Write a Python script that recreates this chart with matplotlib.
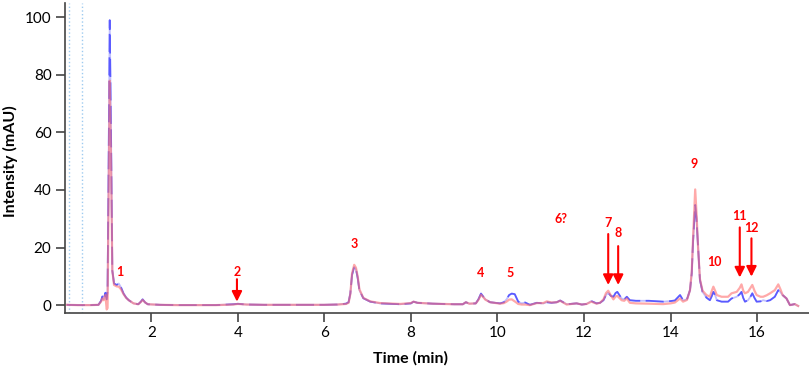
#!/usr/bin/env python3
import matplotlib
matplotlib.use("Agg")
import matplotlib.pyplot as plt

# chromatogram traces (time in min, intensity in mAU)
time = [0.05, 0.3, 0.6, 0.78, 0.84, 0.87, 0.90, 0.94, 0.97, 0.99, 1.01, 1.04, 1.07, 1.10,
        1.14, 1.20, 1.25, 1.30, 1.36, 1.42, 1.48, 1.59, 1.70, 1.76, 1.80, 1.86, 1.92, 2.2,
        2.6, 3.0, 3.5, 3.9, 4.0, 4.2, 4.6, 5.0, 5.5, 6.0, 6.3, 6.50, 6.56, 6.60, 6.64, 6.69,
        6.73, 6.77, 6.81, 6.90, 7.06, 7.29, 7.75, 8.0, 8.06, 8.15, 8.5, 9.0, 9.2, 9.27, 9.35,
        9.50, 9.56, 9.62, 9.67, 9.72, 9.83, 10.06, 10.15, 10.21, 10.27, 10.33, 10.40, 10.48,
        10.56, 10.64, 10.75, 10.91, 11.06, 11.14, 11.25, 11.37, 11.45, 11.6, 11.83, 11.95,
        12.06, 12.17, 12.29, 12.37, 12.45, 12.51, 12.56, 12.62, 12.68, 12.73, 12.77, 12.87,
        12.93, 12.99, 13.06, 13.2, 13.5, 13.83, 14.0, 14.1, 14.22, 14.29, 14.38, 14.45, 14.49,
        14.52, 14.57, 14.60, 14.64, 14.68, 14.74, 14.83, 14.91, 14.95, 14.99, 15.03, 15.07,
        15.18, 15.33, 15.41, 15.53, 15.60, 15.64, 15.68, 15.72, 15.79, 15.85, 15.89, 15.94,
        15.99, 16.08, 16.14, 16.22, 16.30, 16.41, 16.49, 16.54, 16.59, 16.68, 16.76, 16.82,
        16.87, 16.95]

blue = [0.1, 0.0, 0.0, 0.1, 1.5, 3.0, 2.0, 4.3, 2.0, 5.0, 40, 99, 60, 12,
        7.5, 7.0, 7.5, 6.2, 4.0, 2.6, 1.7, 0.6, 0.3, 1.2, 2.0, 0.9, 0.3, 0.1,
        0.0, 0.0, 0.0, 0.3, 0.45, 0.2, 0.1, 0.1, 0.1, 0.1, 0.2, 0.5, 1.0, 4.0, 10.5, 13.3,
        12.5, 9.5, 5.2, 2.4, 1.2, 0.6, 0.3, 0.6, 1.2, 0.8, 0.5, 0.3, 0.3, 1.0, 0.5,
        0.6, 2.0, 4.0, 3.0, 2.0, 1.0, 0.6, 1.0, 2.0, 3.5, 4.0, 3.8, 1.2,
        0.6, 0.9, 0.1, 0.8, 0.6, 1.0, 0.8, 1.0, 1.6, 0.3, 0.6, 0.2,
        0.4, 1.4, 0.6, 0.8, 1.7, 3.5, 4.3, 3.2, 2.9, 4.2, 4.6, 2.3,
        2.0, 2.9, 1.7, 1.5, 1.5, 1.2, 1.4, 1.6, 3.5, 1.7, 2.0, 5.2, 11,
        22, 34.8, 30, 19, 8.7, 4.6, 2.6, 1.7, 3.0, 4.6, 3.5, 1.7,
        1.2, 1.2, 2.3, 2.9, 3.8, 4.6, 2.5, 1.2, 1.7, 3.0, 4.1, 2.5,
        1.2, 1.3, 1.7, 1.4, 1.7, 2.9, 5.2, 4.5, 3.5, 2.3, 0.0, 0.2,
        0.35, -0.3]

pink = [0.1, 0.0, 0.0, 0.1, 1.2, 2.3, 1.7, 3.5, -1.5, -1.0, 30, 78, 50, 12,
        7.0, 6.5, 6.4, 5.5, 3.8, 2.5, 1.7, 0.6, 0.3, 1.1, 1.8, 0.9, 0.3, 0.1,
        0.0, 0.0, 0.0, 0.2, 0.4, 0.2, 0.1, 0.1, 0.1, 0.1, 0.2, 0.4, 0.8, 3.8, 11, 14.0,
        13.0, 10.0, 5.5, 2.5, 1.3, 0.7, 0.4, 0.7, 1.2, 0.8, 0.5, 0.3, 0.3, 1.0, 0.5,
        0.6, 1.8, 3.6, 2.8, 1.9, 1.0, 0.5, 0.7, 1.2, 1.9, 2.0, 1.3, 0.4,
        0.2, 0.2, 0.0, 0.7, 0.7, 1.3, 0.9, 1.0, 1.5, 0.2, 0.6, 0.2,
        0.4, 1.2, 0.5, 0.8, 2.0, 4.2, 5.0, 3.4, 2.0, 3.0, 3.2, 1.7,
        1.5, 2.3, 0.8, 0.6, 0.5, 0.35, 0.6, 0.9, 2.3, 1.2, 1.8, 5.2, 11.5,
        23, 40.2, 32, 19, 9, 5.0, 3.5, 2.9, 4.8, 6.4, 5.0, 3.5,
        2.9, 2.9, 4.1, 4.6, 6.0, 7.2, 5.0, 4.1, 4.6, 6.0, 7.0, 5.0,
        3.5, 2.9, 2.9, 3.4, 4.1, 5.2, 7.2, 5.5, 3.5, 2.3, 0.0, 0.2,
        0.35, -0.3]

# peak labels: text, text position, arrow start/end (None = no arrow)
peak_labels = ['1', '2', '3', '4', '5', '6?', '7', '8', '9', '10', '11', '12']
label_t = [1.28, 3.98, 6.70, 9.60, 10.29, 11.47, 12.56, 12.79, 14.54, 15.01, 15.60, 15.87]
label_i = [11.5, 11.6, 21.1, 11.0, 11.0, 29.8, 28.4, 24.9, 49.0, 15.1, 31.0, 26.7]
arrow_top = [None, 9.0, None, None, None, None, 24.7, 20.5, None, None, 27.0, 23.2]
arrow_tip = [None, 1.2, None, None, None, None, 7.0, 7.0, None, None, 9.6, 9.9]

fig = plt.figure(figsize=(8.09, 3.68), dpi=100)
ax = fig.add_axes([0.080, 0.149, 0.92, 0.843])

ax.axvline(0.1, color='#9ecbf0', linestyle=':', linewidth=1)
ax.axvline(0.4, color='#9ecbf0', linestyle=':', linewidth=1)

# blue trace: faint solid line with stronger dashes, pink drawn over it
ax.plot(time, blue, color='#4a4aff', alpha=0.35, linewidth=1.3)
ax.plot(time, blue, color='#3030ff', alpha=0.7, linewidth=1.3, dashes=(10, 3))
ax.plot(time, pink, color='#ff7070', alpha=0.6, linewidth=1.6)

for lab, t, i, top, tip in zip(peak_labels, label_t, label_i, arrow_top, arrow_tip):
    ax.text(t, i, lab, color='red', fontsize=9, fontweight='bold',
            ha='center', va='center', family='Lato')
    if top is not None:
        ax.annotate('', xy=(t, tip), xytext=(t, top),
                    arrowprops=dict(arrowstyle='-|>,head_length=0.6,head_width=0.3',
                                    color='red', lw=1.5, shrinkA=0, shrinkB=0))

ax.set_xlim(0, 17.2)
ax.set_ylim(-2.8, 105)
ax.set_xticks([2, 4, 6, 8, 10, 12, 14, 16])
ax.set_yticks([0, 20, 40, 60, 80, 100])

for s in ['top', 'right']:
    ax.spines[s].set_visible(False)
for s in ['left', 'bottom']:
    ax.spines[s].set_color('#444444')
    ax.spines[s].set_linewidth(1.2)

ax.tick_params(direction='out', length=6.5, width=1.2, color='#444444', pad=3,
               labelsize=11)
for lbl in ax.get_xticklabels() + ax.get_yticklabels():
    lbl.set_family('Lato')

ax.set_xlabel('Time (min)', fontsize=11.5, fontweight='bold', family='Lato')
ax.set_ylabel('Intensity (mAU)', fontsize=11.5, fontweight='bold', family='Lato')
ax.xaxis.set_label_coords(0.464, -0.122)
ax.yaxis.set_label_coords(-0.063, 0.49)

fig.savefig('out.png', dpi=100)
